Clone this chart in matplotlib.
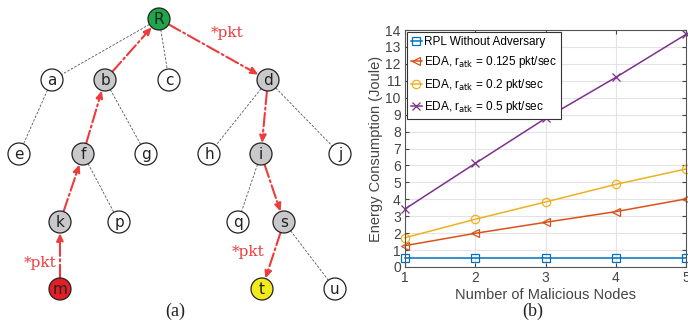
import matplotlib

matplotlib.use("Agg")
import matplotlib.pyplot as plt
import numpy as np

# ---- panel (a): tree layout (pixel coords of the reference) ----
node_names = ["R", "a", "b", "c", "d", "e", "f", "g", "h", "i", "j",
              "k", "p", "q", "s", "m", "t", "u"]
node_x = [159, 52, 105, 169, 268, 19, 83, 146, 209, 261, 340,
          60, 119, 238, 284, 60, 262, 335]
node_y = [19, 80, 80, 80, 80, 154, 154, 154, 154, 154, 154,
          222, 222, 222, 222, 289, 289, 289]
node_kind = {"R": "root", "m": "attacker", "t": "target",
             "b": "path", "f": "path", "k": "path", "d": "path", "i": "path", "s": "path"}

plain_edges = [("R", "a"), ("R", "c"), ("a", "e"), ("b", "g"), ("f", "p"),
               ("d", "h"), ("d", "j"), ("i", "q"), ("s", "u")]
attack_path = ["m", "k", "f", "b", "R", "d", "i", "s", "t"]
pkt_labels_x = [227, 40, 248]
pkt_labels_y = [33, 263, 252]

# ---- panel (b): energy consumption ----
n_malicious = [1, 2, 3, 4, 5]
rpl_no_adv = [0.55, 0.55, 0.55, 0.55, 0.55]
eda_0125 = [1.26, 1.99, 2.64, 3.27, 4.02]
eda_02 = [1.73, 2.82, 3.84, 4.88, 5.79]
eda_05 = [3.43, 6.12, 8.78, 11.2, 13.74]

W, H = 688, 322
fig = plt.figure(figsize=(W / 100, H / 100), dpi=100)

# ---------------- tree ----------------
ax_t = fig.add_axes([0, 0, 360 / W, 1])
ax_t.set_xlim(0, 360)
ax_t.set_ylim(H, 0)
ax_t.axis("off")

pos = {n: (x, y) for n, x, y in zip(node_names, node_x, node_y)}
r = 11
red = "#ee3b3b"
fill = {"root": "#1ea64a", "attacker": "#e41e26", "target": "#f2ea1c", "path": "#c9c9cb"}


def _ends(a, b):
    p1, p2 = np.array(pos[a], float), np.array(pos[b], float)
    u = (p2 - p1) / np.linalg.norm(p2 - p1)
    return p1 + u * r, p2 - u * r


for a, b in plain_edges:
    s, e = _ends(a, b)
    ax_t.plot([s[0], e[0]], [s[1], e[1]], color="#555555", lw=0.6,
              ls=(0, (3, 1.8)), zorder=1)

for a, b in zip(attack_path[:-1], attack_path[1:]):
    s, e = _ends(a, b)
    ax_t.annotate("", xy=e, xytext=s,
                  arrowprops=dict(arrowstyle="-|>,head_length=0.45,head_width=0.2",
                                  color=red, lw=1.5, ls="-.",
                                  shrinkA=0, shrinkB=0), zorder=2)

for n in node_names:
    x, y = pos[n]
    fc = fill.get(node_kind.get(n, ""), "white")
    ax_t.add_patch(plt.Circle((x, y), r, facecolor=fc, edgecolor="#222222",
                              lw=0.9, zorder=3))
    ax_t.text(x, y + 0.5, n, ha="center", va="center", fontsize=11,
              color="#222222", zorder=4)

for x, y in zip(pkt_labels_x, pkt_labels_y):
    ax_t.text(x, y, "*pkt", ha="center", va="center", fontsize=11,
              color=red, family="DejaVu Serif")

ax_t.text(175, 311, "(a)", ha="center", va="center", fontsize=13,
          family="Liberation Serif", color="#222222")

# ---------------- line chart ----------------
ax = fig.add_axes([405 / W, 1 - 267 / H, 281 / W, 237 / H])
series = [
    ("RPL Without Adversary", rpl_no_adv, "#0072BD", "s"),
    ("EDA, r$_{\\rm atk}$ = 0.125 pkt/sec", eda_0125, "#D95319", "<"),
    ("EDA, r$_{\\rm atk}$ = 0.2 pkt/sec", eda_02, "#EDB120", "o"),
    ("EDA, r$_{\\rm atk}$ = 0.5 pkt/sec", eda_05, "#7E2F8E", "x"),
]
for label, vals, color, mk in series:
    ax.plot(n_malicious, vals, color=color, marker=mk, ms=6, lw=1.1,
            mfc="none", mew=0.9, label=label, clip_on=False)

ax.set_xlim(1, 5)
ax.set_ylim(0, 14)
ax.set_xticks(n_malicious)
ax.set_yticks(range(0, 15))
ax.grid(True, color="#e3e3e3", lw=0.8)
ax.set_axisbelow(True)
for sp in ax.spines.values():
    sp.set_color("#555555")
    sp.set_linewidth(0.8)
ax.tick_params(direction="in", labelsize=10, colors="#444444", length=3,
               top=True, right=True, pad=3)
for lbl in ax.get_xticklabels() + ax.get_yticklabels():
    lbl.set_family("Liberation Sans")
ax.set_xlabel("Number of Malicious Nodes", fontsize=10.5, color="#444444",
              labelpad=2, family="Liberation Sans")
ax.set_ylabel("Energy Consumption (Joule)", fontsize=10.5, color="#444444",
              labelpad=2, family="Liberation Sans")

leg = ax.legend(loc="upper left", prop={"family": "Liberation Sans", "size": 8.5},
                handlelength=0.9, handletextpad=0.2, borderpad=0.3,
                labelspacing=0.55, borderaxespad=0.2, fancybox=False, framealpha=1)
leg.get_frame().set_edgecolor("#333333")
leg.get_frame().set_linewidth(0.8)

fig.text(533 / W, 1 - 311 / H, "(b)", ha="center", va="center", fontsize=13,
         family="Liberation Serif", color="#222222")

fig.savefig("out.png", dpi=100)
